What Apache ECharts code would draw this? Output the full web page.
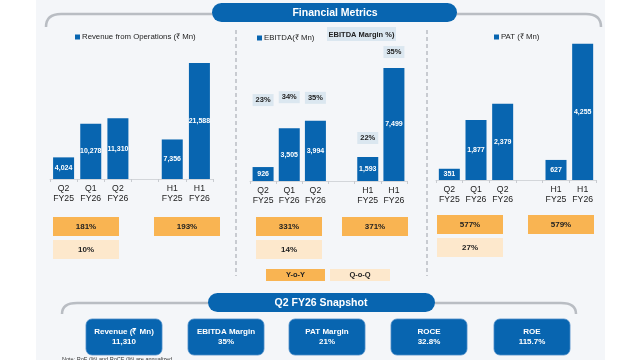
<!DOCTYPE html>
<html><head><meta charset="utf-8">
<script src="https://cdn.jsdelivr.net/npm/echarts@6/dist/echarts.min.js"></script>
<style>html,body{margin:0;padding:0;background:#fff}#c{width:640px;height:360px}</style>
</head><body><div id="c"></div>
<script>
const categories = ['Q2\nFY25', 'Q1\nFY26', 'Q2\nFY26', '', 'H1\nFY25', 'H1\nFY26'];
const revenue = [4024, 10278, 11310, null, 7356, 21588];
const ebitda = [926, 3505, 3994, null, 1593, 7499];
const ebitdaMargin = ['23%', '34%', '35%', null, '22%', '35%'];
const pat = [351, 1877, 2379, null, 627, 4255];
const revGrowth = { qYoY: '181%', qQoQ: '10%', hYoY: '193%' };
const ebitdaGrowth = { qYoY: '331%', qQoQ: '14%', hYoY: '371%' };
const patGrowth = { qYoY: '577%', qQoQ: '27%', hYoY: '579%' };
const snapLabels = ['Revenue (₹ Mn)', 'EBITDA Margin', 'PAT Margin', 'ROCE', 'ROE'];
const snapValues = ['11,310', '35%', '21%', '32.8%', '115.7%'];

const FONT = 'Arial, "Liberation Sans", sans-serif';
const BLUE = '#0865b0';
const ORANGE = '#f9b452';
const PEACH = '#fde8cc';
const GREY = '#b9bdc3';

const fmt = v => v == null ? '' : Number(v).toLocaleString('en-US');
const chart = echarts.init(document.getElementById('c'), null, { renderer: 'canvas' });

function xAx(gi) {
  return {
    type: 'category', gridIndex: gi, data: categories,
    axisLine: { show: true, lineStyle: { color: '#d3d6da', width: 1 } },
    axisTick: { show: true, length: 3, lineStyle: { color: '#c8cbd0' } },
    axisLabel: { interval: 0, fontSize: 8.7, lineHeight: 9.5, color: '#222', fontFamily: FONT, margin: 5 }
  };
}
function yAx(gi, max) {
  return { type: 'value', gridIndex: gi, min: 0, max: max, show: false, splitLine: { show: false } };
}
const innerLabel = {
  show: true, position: 'inside', color: '#fff', fontWeight: 'bold', fontSize: 7,
  fontFamily: FONT, formatter: p => fmt(p.value)
};
const marginDist = [61, 25, 17, 0, 13, 10];

function growthBoxes(x1, x2, y, g) {
  const w = 66, h = 19;
  const els = [];
  const box = (x, yy, fill, txt) => {
    els.push({ type: 'rect', shape: { x: x, y: yy, width: w, height: h }, style: { fill: fill } });
    els.push({ type: 'text', x: x + w / 2, y: yy + h / 2, style: { text: txt, fill: '#222', font: 'bold 8px ' + FONT, align: 'center', verticalAlign: 'middle' } });
  };
  box(x1, y, ORANGE, g.qYoY);
  box(x1, y + 23, PEACH, g.qQoQ);
  box(x2, y, ORANGE, g.hYoY);
  return els;
}
function bracketLeft(xc, yBottom, yTop, xEnd) {
  return [
    { type: 'bezierCurve', shape: { x1: xc, y1: yBottom, x2: xc + 15, y2: yTop, cpx1: xc, cpy1: yTop }, style: { stroke: GREY, lineWidth: 2.5, fill: null } },
    { type: 'line', shape: { x1: xc + 15, y1: yTop, x2: xEnd, y2: yTop }, style: { stroke: GREY, lineWidth: 2.5 } }
  ];
}
function bracketRight(xStart, yTop, xc, yBottom) {
  return [
    { type: 'line', shape: { x1: xStart, y1: yTop, x2: xc - 15, y2: yTop }, style: { stroke: GREY, lineWidth: 2.5 } },
    { type: 'bezierCurve', shape: { x1: xc - 15, y1: yTop, x2: xc, y2: yBottom, cpx1: xc, cpy1: yTop }, style: { stroke: GREY, lineWidth: 2.5, fill: null } }
  ];
}

const graphics = [
  { type: 'rect', z: -10, shape: { x: 36, y: 0, width: 569, height: 360 }, style: { fill: '#f4f6f9' } },
  ...bracketLeft(46, 27, 14, 214),
  ...bracketRight(455, 14, 601, 27),
  { type: 'rect', shape: { x: 212, y: 3, width: 245, height: 19, r: 9.5 }, style: { fill: BLUE } },
  { type: 'text', x: 335, y: 13, style: { text: 'Financial Metrics', fill: '#fff', font: 'bold 10.5px ' + FONT, align: 'center', verticalAlign: 'middle' } },
  { type: 'line', shape: { x1: 236, y1: 30, x2: 236, y2: 276 }, style: { stroke: GREY, lineWidth: 1.5, lineDash: [4, 3] } },
  { type: 'line', shape: { x1: 427, y1: 30, x2: 427, y2: 276 }, style: { stroke: GREY, lineWidth: 1.5, lineDash: [4, 3] } },
  { type: 'rect', shape: { x: 327, y: 27, width: 69, height: 14 }, style: { fill: '#dbe7f0' } },
  { type: 'text', x: 361.5, y: 34.5, style: { text: 'EBITDA Margin %)', fill: '#222', font: '600 7.5px ' + FONT, align: 'center', verticalAlign: 'middle' } },
  ...growthBoxes(53, 154, 217, revGrowth),
  ...growthBoxes(256, 342, 217, ebitdaGrowth),
  ...growthBoxes(437, 528, 215, patGrowth),
  { type: 'rect', shape: { x: 266, y: 269, width: 59, height: 12 }, style: { fill: ORANGE } },
  { type: 'text', x: 295.5, y: 275, style: { text: 'Y-o-Y', fill: '#222', font: 'bold 7.5px ' + FONT, align: 'center', verticalAlign: 'middle' } },
  { type: 'rect', shape: { x: 330, y: 269, width: 60, height: 12 }, style: { fill: PEACH } },
  { type: 'text', x: 360, y: 275, style: { text: 'Q-o-Q', fill: '#222', font: 'bold 7.5px ' + FONT, align: 'center', verticalAlign: 'middle' } },
  ...bracketLeft(62, 314, 303, 212),
  ...bracketRight(432, 303, 576, 314),
  { type: 'rect', shape: { x: 208, y: 293, width: 227, height: 19, r: 9.5 }, style: { fill: BLUE } },
  { type: 'text', x: 321, y: 303, style: { text: 'Q2 FY26 Snapshot', fill: '#fff', font: 'bold 10.5px ' + FONT, align: 'center', verticalAlign: 'middle' } },
  { type: 'text', x: 62, y: 356, style: { text: 'Note: RoE (%) and RoCE (%) are annualized', fill: '#333', font: '5.5px ' + FONT } }
];
const snapX = [86, 188, 289, 391, 494];
snapLabels.forEach((lab, i) => {
  graphics.push({ type: 'rect', shape: { x: snapX[i], y: 319, width: 76, height: 36, r: 6 }, style: { fill: BLUE, stroke: '#4a8cc8', lineWidth: 0.8 } });
  graphics.push({ type: 'text', x: snapX[i] + 38, y: 332, style: { text: lab, fill: '#fff', font: 'bold 8px ' + FONT, align: 'center', verticalAlign: 'middle' } });
  graphics.push({ type: 'text', x: snapX[i] + 38, y: 341.5, style: { text: snapValues[i], fill: '#fff', font: 'bold 8px ' + FONT, align: 'center', verticalAlign: 'middle' } });
});

const legendBase = { orient: 'horizontal', itemWidth: 5, itemHeight: 5, icon: 'rect', itemGap: 4,
  textStyle: { fontSize: 7.8, color: '#222', fontFamily: FONT, padding: [0, 0, 0, -3] }, selectedMode: false };

const option = {
  backgroundColor: '#ffffff',
  animation: false,
  grid: [
    { left: 50, width: 163, top: 50, height: 129 },
    { left: 250, width: 157, top: 60.5, height: 120.5 },
    { left: 436, width: 160, top: 36, height: 144 }
  ],
  legend: [
    Object.assign({}, legendBase, { left: 70, top: 28, data: ['Revenue from Operations (₹ Mn)'] }),
    Object.assign({}, legendBase, { left: 252, top: 29, data: ['EBITDA(₹ Mn)'] }),
    Object.assign({}, legendBase, { left: 489, top: 28, data: ['PAT (₹ Mn)'] })
  ],
  xAxis: [xAx(0), xAx(1), xAx(2)],
  yAxis: [yAx(0, 24000), yAx(1, 8000), yAx(2, 4500)],
  series: [
    { name: 'Revenue from Operations (₹ Mn)', type: 'bar', xAxisIndex: 0, yAxisIndex: 0, barWidth: 21,
      itemStyle: { color: BLUE }, label: innerLabel, data: revenue.map(v => v == null ? '-' : v) },
    { name: 'EBITDA(₹ Mn)', type: 'bar', xAxisIndex: 1, yAxisIndex: 1, barWidth: 21,
      itemStyle: { color: BLUE }, label: innerLabel, data: ebitda.map(v => v == null ? '-' : v) },
    { name: 'EBITDA Margin %', type: 'bar', xAxisIndex: 1, yAxisIndex: 1, barWidth: 21, barGap: '-100%',
      itemStyle: { color: 'rgba(0,0,0,0)' }, silent: true,
      data: ebitda.map((v, i) => v == null ? '-' : {
        value: v,
        label: { show: true, position: 'top', distance: marginDist[i], formatter: ebitdaMargin[i],
          backgroundColor: '#dbe7f0', padding: [2, 3], color: '#222', fontSize: 7.5, fontWeight: 'bold', fontFamily: FONT }
      }) },
    { name: 'PAT (₹ Mn)', type: 'bar', xAxisIndex: 2, yAxisIndex: 2, barWidth: 21,
      itemStyle: { color: BLUE }, label: innerLabel, data: pat.map(v => v == null ? '-' : v) }
  ],
  graphic: graphics
};
chart.setOption(option);
</script>
</body></html>
